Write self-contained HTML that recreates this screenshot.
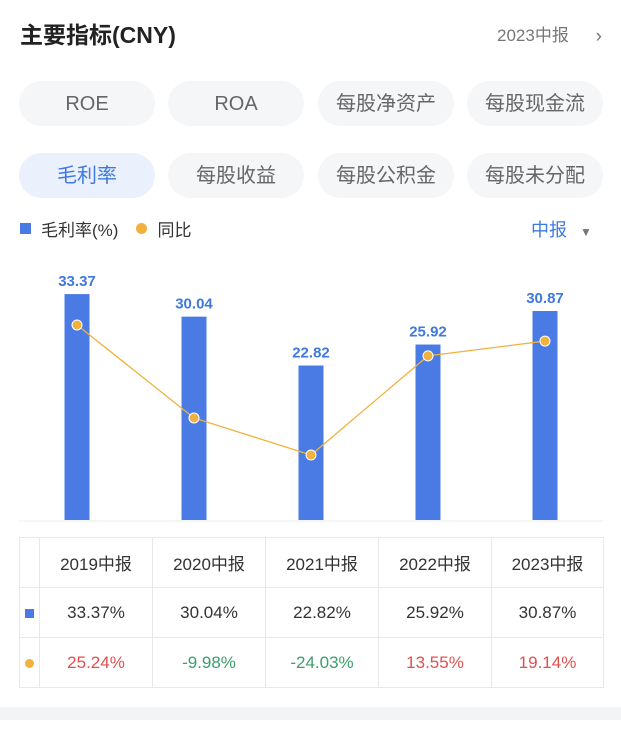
<!DOCTYPE html>
<html><head><meta charset="utf-8"><style>
body{margin:0;width:621px;height:737px;background:#fff;font-family:"Liberation Sans","Noto Sans CJK SC",sans-serif;position:relative;overflow:hidden}
.abs{position:absolute}
.btn{position:absolute;width:136px;height:45px;line-height:45px;border-radius:23px;background:#f5f6f8;color:#666;font-size:20px;text-align:center}
.btn span{display:inline-block;line-height:24px;vertical-align:middle}
.btn.on{background:#eaf1fd;color:#3f79e0}
table{position:absolute;left:19px;top:537px;border-collapse:collapse;font-size:17px;color:#333;table-layout:fixed;width:584px}
td{border:1px solid #e8e8e8;text-align:center;padding:0;height:49px}
.r{color:#e0504f}.g{color:#3b9e6c}
</style></head><body>
<div class="abs" style="left:20px;top:16px;font-size:23px;font-weight:bold;color:#222">主要指标(CNY)</div>
<div class="abs" style="left:497px;top:21px;font-size:17px;color:#777;width:110px;height:24px">2023中报<span style="position:absolute;right:5px;top:6px;font-size:19px;line-height:20px">›</span></div>
<div class="btn" style="left:19px;top:81px"><span>ROE</span></div>
<div class="btn" style="left:168px;top:81px"><span>ROA</span></div>
<div class="btn" style="left:318px;top:81px"><span>每股净资产</span></div>
<div class="btn" style="left:467px;top:81px"><span>每股现金流</span></div>
<div class="btn on" style="left:19px;top:153px"><span>毛利率</span></div>
<div class="btn" style="left:168px;top:153px"><span>每股收益</span></div>
<div class="btn" style="left:318px;top:153px"><span>每股公积金</span></div>
<div class="btn" style="left:467px;top:153px"><span>每股未分配</span></div>
<div class="abs" style="left:20px;top:216px;font-size:17px;color:#333;display:flex;align-items:center">
<span style="width:11px;height:11px;background:#4a7be5;display:inline-block;margin-right:10px"></span>毛利率(%)
<span style="width:11px;height:11px;border-radius:50%;background:#f0b13e;display:inline-block;margin:0 10px 0 18px"></span>同比</div>
<div class="abs" style="left:531px;top:216px;font-size:18px;color:#3f79e0">中报 <span style="color:#777;font-size:12px;margin-left:8px">▼</span></div>
<svg class="abs" style="left:0;top:0" width="621" height="737" id="chart">
<line x1="19" x2="603" y1="521" y2="521" stroke="#eee"/>
</svg>
<table>
<colgroup><col style="width:20px"><col style="width:113px"><col style="width:113px"><col style="width:113px"><col style="width:113px"><col style="width:112px"></colgroup>
<tr><td></td><td>2019中报</td><td>2020中报</td><td>2021中报</td><td>2022中报</td><td>2023中报</td></tr>
<tr><td><span style="display:inline-block;width:9px;height:9px;background:#4a7be5"></span></td><td>33.37%</td><td>30.04%</td><td>22.82%</td><td>25.92%</td><td>30.87%</td></tr>
<tr><td><span style="display:inline-block;width:9px;height:9px;border-radius:50%;background:#f0b13e"></span></td><td class="r">25.24%</td><td class="g">-9.98%</td><td class="g">-24.03%</td><td class="r">13.55%</td><td class="r">19.14%</td></tr>
</table>
<div class="abs" style="left:0;top:707px;width:621px;height:13px;background:#f3f4f6"></div>
<script>
const categories=["2019中报","2020中报","2021中报","2022中报","2023中报"];
const margins=[33.37,30.04,22.82,25.92,30.87];
const yoy=[25.24,-9.98,-24.03,13.55,19.14];
const svg=document.getElementById('chart');const NS="http://www.w3.org/2000/svg";
const xPos=i=>77+i*117;
const yBar=v=>520-v*6.77;
const yLine=v=>391.6-v*2.64;
function mk(t,a){const e=document.createElementNS(NS,t);for(const k in a)e.setAttribute(k,a[k]);svg.appendChild(e);return e;}
margins.forEach((v,i)=>{
const b=mk('rect',{x:xPos(i)-12.5,y:yBar(v),width:25,height:520-yBar(v),fill:'#4a7be5'});


const t=mk('text',{x:xPos(i),y:yBar(v)-8,'text-anchor':'middle','font-size':15,'font-weight':'bold',fill:'#3f79e0','font-family':'Liberation Sans, sans-serif'});
t.textContent=v.toFixed(2);


});
const pl=mk('polyline',{points:yoy.map((v,i)=>xPos(i)+','+yLine(v)).join(' '),fill:'none',stroke:'#f0b13e','stroke-width':1.3});


yoy.forEach((v,i)=>{
const c=mk('circle',{cx:xPos(i),cy:yLine(v),r:5,fill:'#f0b13e',stroke:'#fff','stroke-width':1});


});
</script>
</body></html>
